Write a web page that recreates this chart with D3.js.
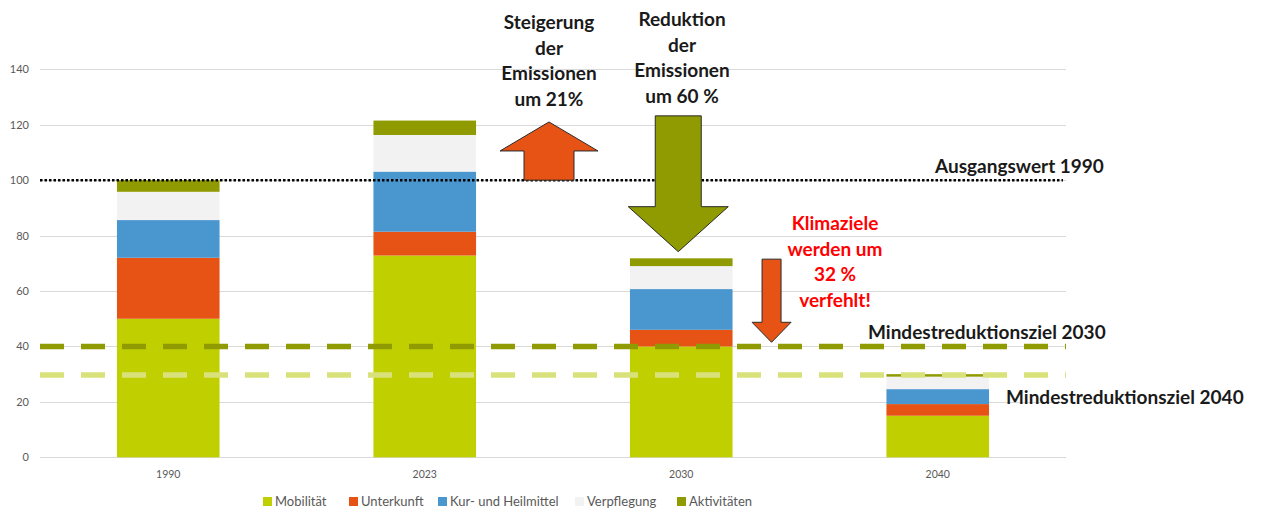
<!DOCTYPE html>
<html>
<head>
<meta charset="utf-8">
<script src="https://cdn.jsdelivr.net/npm/d3@7"></script>
<style>
	body { margin: 0; background: #fff; }
	svg { display: block; font-family: Lato, "Open Sans", sans-serif; }
</style>
</head>
<body>
<svg id="chart" width="1274" height="512"></svg>
<script>
// chart data
var years = ["1990", "2023", "2030", "2040"];
var series = ["Mobilität", "Unterkunft", "Kur- und Heilmittel", "Verpflegung", "Aktivitäten"];
var mobilitaet = [50, 72.8, 40, 15];
var unterkunft = [22, 8.6, 6, 4.2];
var kurHeilmittel = [13.6, 21.7, 14.7, 5.4];
var verpflegung = [10.2, 13.2, 8.3, 4.5];
var aktivitaeten = [4.2, 5.2, 2.8, 0.9];
var yTicks = [0, 20, 40, 60, 80, 100, 120, 140];

// reference lines
var baseline1990 = 100;
var target2030 = 40;
var target2040 = 29.7;

var colors = ["#c0cf00", "#e65314", "#4a96cf", "#f2f2f2", "#8f9b00"];

var svg = d3.select("#chart");
var plotLeft = 40, plotRight = 1066, plotTop = 69.3, plotBottom = 457.3;

var x = d3.scaleBand()
	.domain(years)
	.range([plotLeft, plotRight])
	.paddingInner(0.6)
	.paddingOuter(0.3);

var y = d3.scaleLinear()
	.domain([0, 140])
	.range([plotBottom, plotTop]);

/*
 * gridlines and axis labels
 */
svg.append("g").selectAll("line")
	.data(yTicks).enter()
	.append("line")
		.attr("x1", plotLeft)
		.attr("x2", plotRight)
		.attr("y1", function(d) { return Math.round(y(d)) + 0.5; })
		.attr("y2", function(d) { return Math.round(y(d)) + 0.5; })
		.attr("stroke", "#d9d9d9")
		.attr("stroke-width", 1);

svg.append("g").selectAll("text")
	.data(yTicks).enter()
	.append("text")
		.attr("x", 29)
		.attr("y", function(d) { return y(d) + 4; })
		.attr("text-anchor", "end")
		.attr("font-size", 11)
		.attr("fill", "#595959")
		.text(function(d) { return d; });

svg.append("g").selectAll("text")
	.data(years).enter()
	.append("text")
		.attr("x", function(d) { return x(d) + x.bandwidth() / 2; })
		.attr("y", 478)
		.attr("text-anchor", "middle")
		.attr("font-size", 10.5)
		.attr("fill", "#595959")
		.text(function(d) { return d; });

/*
 * stacked bars
 */
var table = years.map(function(yr, i) {
	return {
		year: yr,
		"Mobilität": mobilitaet[i],
		"Unterkunft": unterkunft[i],
		"Kur- und Heilmittel": kurHeilmittel[i],
		"Verpflegung": verpflegung[i],
		"Aktivitäten": aktivitaeten[i]
	};
});

var stacked = d3.stack().keys(series)(table);

svg.append("g").selectAll("g")
	.data(stacked).enter()
	.append("g")
		.attr("fill", function(d, i) { return colors[i]; })
	.selectAll("rect")
	.data(function(d) { return d; }).enter()
	.append("rect")
		.attr("x", function(d) { return x(d.data.year); })
		.attr("width", x.bandwidth())
		.attr("y", function(d) { return y(d[1]); })
		.attr("height", function(d) { return y(d[0]) - y(d[1]); });

/*
 * target lines and 1990 baseline
 */
svg.append("line")
	.attr("x1", plotLeft).attr("x2", plotRight)
	.attr("y1", y(target2040)).attr("y2", y(target2040))
	.attr("stroke", "#d9e27a")
	.attr("stroke-width", 5.5)
	.attr("stroke-dasharray", "24,17");

svg.append("line")
	.attr("x1", plotLeft).attr("x2", plotRight)
	.attr("y1", y(target2030)).attr("y2", y(target2030))
	.attr("stroke", "#8f9b00")
	.attr("stroke-width", 5.5)
	.attr("stroke-dasharray", "24,17");

svg.append("line")
	.attr("x1", plotLeft).attr("x2", 1063)
	.attr("y1", y(baseline1990)).attr("y2", y(baseline1990))
	.attr("stroke", "#000")
	.attr("stroke-width", 2.5)
	.attr("stroke-dasharray", "2.5,2");

/*
 * block arrows
 */
function arrow(cx, yFrom, yTo, shaft, head, headLen, fill) {
	var dir = yTo < yFrom ? -1 : 1;
	var yb = yTo - dir * headLen;
	var pts = [
		[cx - shaft / 2, yFrom], [cx - shaft / 2, yb], [cx - head / 2, yb],
		[cx, yTo],
		[cx + head / 2, yb], [cx + shaft / 2, yb], [cx + shaft / 2, yFrom]
	];
	svg.append("path")
		.attr("d", "M" + pts.join("L") + "Z")
		.attr("fill", fill)
		.attr("stroke", "#2b2b2b")
		.attr("stroke-width", 1);
}

var mid = (x("2023") + x("2030") + x.bandwidth()) / 2;
arrow(mid - 4, y(100), y(121), 50, 98, 29, "#e65314");
arrow(x("2030") + x.bandwidth() / 2 - 3, y(123.2), y(74.2), 46, 100, 45, "#8f9b00");
arrow(x("2030") + x.bandwidth() + 39, y(71.5), y(41.5), 19, 39, 20, "#e65314");

/*
 * annotation texts
 */
function label(lines, cx, y0, step, color, anchor) {
	var t = svg.append("text")
		.attr("font-size", 19)
		.attr("font-weight", "bold")
		.attr("fill", color)
		.attr("text-anchor", anchor || "middle");
	lines.forEach(function(s, i) {
		t.append("tspan").attr("x", cx).attr("y", y0 + i * step).text(s);
	});
}

label(["Steigerung", "der", "Emissionen", "um 21%"], 549, 29, 25.7, "#1a1a1a");
label(["Reduktion", "der", "Emissionen", "um 60 %"], 682, 26, 25.6, "#1a1a1a");
label(["Ausgangswert 1990"], 1019.5, 173, 0, "#1a1a1a");
label(["Klimaziele", "werden um", "32 %", "verfehlt!"], 835, 230, 25.6, "#ff0000");
label(["Mindestreduktionsziel 2030"], 868, 339, 0, "#1a1a1a", "start");
label(["Mindestreduktionsziel 2040"], 1006, 404, 0, "#1a1a1a", "start");

/*
 * legend
 */
var legendX = [263, 349, 438, 575, 677];
var legend = svg.append("g").selectAll("g")
	.data(series).enter()
	.append("g")
		.attr("transform", function(d, i) { return "translate(" + legendX[i] + ",497)"; });

legend.append("rect")
	.attr("width", 9).attr("height", 9)
	.attr("fill", function(d, i) { return colors[i]; });

legend.append("text")
	.attr("x", 12)
	.attr("y", 9)
	.attr("font-size", 13)
	.attr("fill", "#595959")
	.text(function(d) { return d; });
</script>
</body>
</html>
